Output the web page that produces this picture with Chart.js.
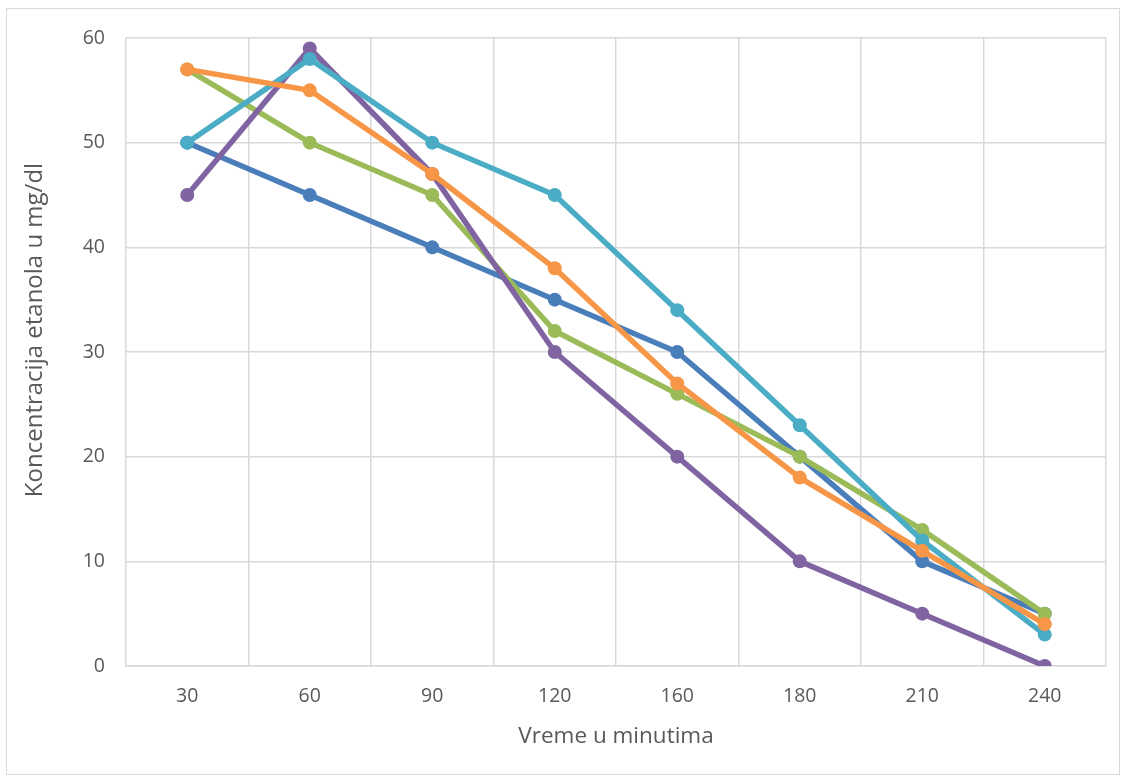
<!DOCTYPE html>
<html>
<head>
<meta charset="utf-8">
<script src="https://cdn.jsdelivr.net/npm/chart.js@4/dist/chart.umd.min.js"></script>
<style>
  html, body { margin: 0; padding: 0; background: #fff; }
  canvas { display: block; }
</style>
</head>
<body>
<canvas id="chart" width="1125" height="780"></canvas>
<script>
// x categories (minutes)
var minutes = ["30", "60", "90", "120", "160", "180", "210", "240"];
var yTicks = [0, 10, 20, 30, 40, 50, 60];
var yTitle = "Koncentracija etanola u mg/dl";

// ethanol concentration series
var blueSeries = [50, 45, 40, 35, 30, 20, 10, 5];
var greenSeries = [57, 50, 45, 32, 26, 20, 13, 5];
var purpleSeries = [45, 59, 47, 30, 20, 10, 5, 0];
var cyanSeries = [50, 58, 50, 45, 34, 23, 12, 3];
var orangeSeries = [57, 55, 47, 38, 27, 18, 11, 4];

function line(data, color, order) {
	return {
		data: data,
		borderColor: color,
		backgroundColor: color,
		borderWidth: 5.5,
		pointRadius: 7,
		pointHoverRadius: 7,
		pointBorderWidth: 0,
		tension: 0,
		order: order
	};
}

var fontFamily = "'Open Sans', 'Noto Sans', sans-serif";

// white background, outer frame, and the y title (Excel puts it a bit above the plot centre)
var frame = {
	id: 'frame',
	beforeDraw: function(chart) {
		var ctx = chart.ctx;
		ctx.save();
		ctx.fillStyle = '#fff';
		ctx.fillRect(0, 0, chart.width, chart.height);
		ctx.strokeStyle = '#d9d9d9';
		ctx.lineWidth = 1;
		ctx.strokeRect(6.5, 8.5, 1113, 766);
		ctx.restore();
	},
	afterDraw: function(chart) {
		var ctx = chart.ctx;
		ctx.save();
		ctx.translate(35, 330);
		ctx.rotate(-Math.PI / 2);
		ctx.fillStyle = '#595959';
		ctx.font = "24px " + fontFamily;
		ctx.textAlign = 'center';
		ctx.textBaseline = 'middle';
		ctx.fillText(yTitle, 0, 0);
		ctx.restore();
	}
};

var tickFont = { family: fontFamily, size: 19.5 };
var titleFont = { family: fontFamily, size: 22.5 };

new Chart(document.getElementById('chart'), {
	type: 'line',
	data: {
		labels: minutes,
		datasets: [
			line(blueSeries, '#4a7ebb', 5),
			line(greenSeries, '#9bbb59', 4),
			line(purpleSeries, '#8064a2', 3),
			line(cyanSeries, '#4bacc6', 2),
			line(orangeSeries, '#f79646', 1)
		]
	},
	options: {
		responsive: false,
		animation: false,
		layout: { padding: { left: 18, right: 19, top: 38, bottom: 26 } },
		plugins: {
			legend: { display: false },
			tooltip: { enabled: false }
		},
		scales: {
			x: {
				offset: true,
				grid: { color: '#d9d9d9', lineWidth: 1.5, offset: true, drawTicks: false },
				border: { color: '#d9d9d9', width: 1.5 },
				ticks: { color: '#595959', font: tickFont, padding: 19 },
				title: { display: true, text: 'Vreme u minutima', color: '#595959', font: titleFont, padding: { top: 10 } },
				afterFit: function(scale) { scale.height = 780 - 666 - 26; }
			},
			y: {
				min: 0,
				max: 60,
				afterBuildTicks: function(scale) {
					scale.ticks = yTicks.map(function(v) { return { value: v }; });
				},
				grid: { color: '#d9d9d9', lineWidth: 1.5, drawTicks: false },
				border: { display: false },
				ticks: { color: '#595959', font: tickFont, padding: 21 },
				afterFit: function(scale) { scale.width = 126 - 18; }
			}
		}
	},
	plugins: [frame]
});
</script>
</body>
</html>
